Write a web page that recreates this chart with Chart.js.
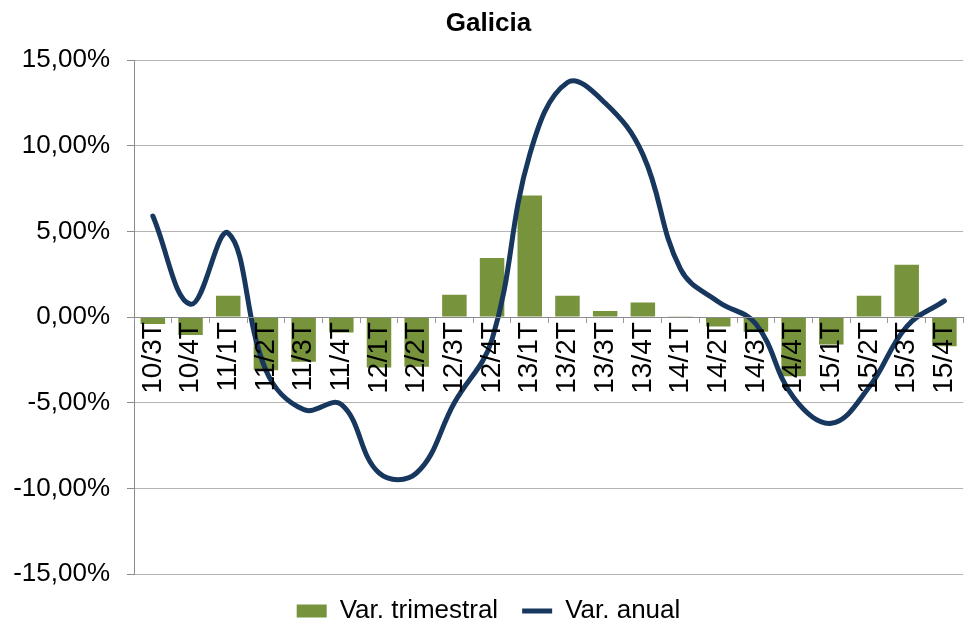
<!DOCTYPE html>
<html>
<head>
<meta charset="utf-8">
<script src="https://cdn.jsdelivr.net/npm/chart.js@4/dist/chart.umd.min.js"></script>
<style>
  html, body { margin: 0; padding: 0; background: #fff; overflow: hidden; }
  #wrap { width: 978px; height: 625px; }
</style>
</head>
<body>
<div id="wrap"><canvas id="chart" width="978" height="625"></canvas></div>
<script>
const categories = ['10/3T','10/4T','11/1T','11/2T','11/3T','11/4T','12/1T','12/2T','12/3T','12/4T','13/1T',
  '13/2T','13/3T','13/4T','14/1T','14/2T','14/3T','14/4T','15/1T','15/2T','15/3T','15/4T'];
const varTrimestral = [-0.4, -1.05, 1.25, -3.1, -2.6, -0.9, -2.95, -2.9, 1.3, 3.45, 7.1,
  1.25, 0.35, 0.85, 0.05, -0.55, -0.85, -3.45, -1.6, 1.25, 3.05, -1.7];
const varAnual = [5.9, 0.75, 4.9, -3.1, -5.4, -5.1, -9.1, -9.1, -5.0, -1.3, 9.5,
  13.7, 12.5, 9.5, 2.8, 0.9, -0.4, -4.7, -6.2, -4.1, -0.55, 0.95];
const yTicks = [-15, -10, -5, 0, 5, 10, 15];

const font = "'Liberation Sans', Arial, sans-serif";

function pct(v) {
  return v.toFixed(2).replace('.', ',') + '%';
}

new Chart(document.getElementById('chart').getContext('2d'), {
  type: 'bar',
  data: {
    labels: categories,
    datasets: [
      {
        type: 'bar',
        label: 'Var. trimestral',
        data: varTrimestral,
        backgroundColor: '#77933C',
        borderWidth: 0,
        categoryPercentage: 0.65,
        barPercentage: 1,
        pointStyle: 'rect',
        order: 1
      },
      {
        type: 'line',
        label: 'Var. anual',
        data: varAnual,
        borderColor: '#17375E',
        backgroundColor: '#17375E',
        borderWidth: 5,
        borderCapStyle: 'round',
        pointRadius: 0,
        pointStyle: 'line',
        tension: 0.4,
        fill: false,
        order: 0
      }
    ]
  },
  options: {
    responsive: false,
    animation: false,
    layout: { padding: { left: 0, right: 1, top: 3, bottom: -9 } },
    plugins: {
      title: {
        display: true,
        text: 'Galicia',
        color: '#000',
        font: { family: font, size: 26, weight: 'bold' },
        padding: { top: 5, bottom: 21 }
      },
      legend: {
        position: 'bottom',
        labels: {
          color: '#000',
          font: { family: font, size: 26 },
          usePointStyle: true,
          pointStyleWidth: 30,
          boxHeight: 13,
          padding: 24,
          sort: (a, b) => a.datasetIndex - b.datasetIndex
        }
      },
      tooltip: { enabled: false }
    },
    scales: {
      x: {
        position: { y: 0 },
        offset: true,
        grid: {
          drawOnChartArea: false,
          drawTicks: true,
          tickLength: 5,
          color: '#9a9a9a',
          offset: true,
          z: 1
        },
        border: { color: '#8c8c8c', z: 1 },
        ticks: {
          autoSkip: false,
          minRotation: 90,
          maxRotation: 90,
          padding: 0,
          color: '#000',
          z: 1,
          font: { family: font, size: 28 }
        }
      },
      y: {
        min: -15,
        max: 15,
        afterBuildTicks: scale => { scale.ticks = yTicks.map(v => ({ value: v })); },
        afterFit: scale => { scale.width = 134; },
        grid: { color: '#b4b4b4', tickLength: 7, tickColor: '#8c8c8c' },
        border: { color: '#8c8c8c' },
        ticks: {
          padding: 17,
          color: '#000',
          font: { family: font, size: 26 },
          callback: v => pct(v)
        }
      }
    }
  }
});
</script>
</body>
</html>
